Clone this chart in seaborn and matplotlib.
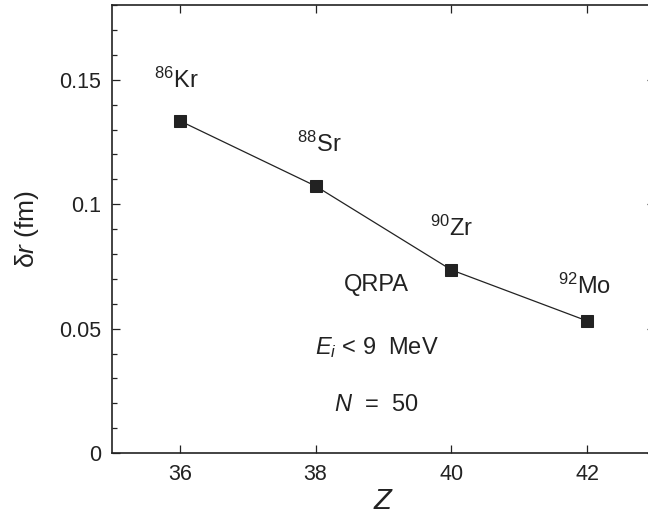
import matplotlib
matplotlib.use("Agg")
import matplotlib.pyplot as plt
import seaborn as sns
import pandas as pd
from matplotlib.ticker import MultipleLocator

## Data
z_values = [36, 38, 40, 42]
delta_r = [0.1335, 0.1073, 0.0736, 0.0531]
nuclei = ["$^{86}$Kr", "$^{88}$Sr", "$^{90}$Zr", "$^{92}$Mo"]
label_x = [35.95, 38.05, 40.0, 41.96]
label_y = [0.150, 0.124, 0.0905, 0.067]

df = pd.DataFrame({"Z": z_values, "dr": delta_r})

sns.set_theme(style="ticks")
plt.rcParams["font.family"] = ["Liberation Sans", "DejaVu Sans"]
plt.rcParams["mathtext.fontset"] = "custom"
plt.rcParams["mathtext.rm"] = "Liberation Sans"
plt.rcParams["mathtext.it"] = "Liberation Sans:italic"

fig = plt.figure(figsize=(6.48, 5.16), dpi=100)
ax = fig.add_axes([0.1728, 0.122, 0.838, 0.868])

sns.lineplot(data=df, x="Z", y="dr", ax=ax, color="#222222", linewidth=0.9,
             marker="s", markersize=8, markeredgecolor="#222222")

##Annotations for each nucleus
for lx, ly, name in zip(label_x, label_y, nuclei):
    ax.text(lx, ly, name, fontsize=17, ha="center", va="center", color="#222222")

ax.text(38.9, 0.0676, "QRPA", fontsize=17, ha="center", va="center", color="#222222")
ax.text(38.9, 0.0422, "$E_i$ < 9  MeV", fontsize=17, ha="center", va="center", color="#222222")
ax.text(38.9, 0.0193, "$N$  =  50", fontsize=17, ha="center", va="center", color="#222222")

ax.set_xlim(35, 43)
ax.set_ylim(0, 0.18)
ax.set_xticks([36, 38, 40, 42])
ax.set_yticks([0, 0.05, 0.1, 0.15])
ax.set_yticklabels(["0", "0.05", "0.1", "0.15"])
ax.yaxis.set_minor_locator(MultipleLocator(0.01))

ax.tick_params(which="both", direction="in", top=True, right=True, labelsize=15.5,
               colors="#222222", width=0.9)
ax.tick_params(which="major", length=6, pad=8)
ax.tick_params(which="minor", length=3.5)
for sp in ax.spines.values():
    sp.set_linewidth(1.2)
    sp.set_color("#222222")

ax.set_xlabel("$Z$", fontsize=21, labelpad=1, color="#222222")
ax.set_ylabel(r"$\mathrm{\delta}r$ (fm)", fontsize=19, labelpad=13, color="#222222")

fig.savefig("out.png", dpi=100)
